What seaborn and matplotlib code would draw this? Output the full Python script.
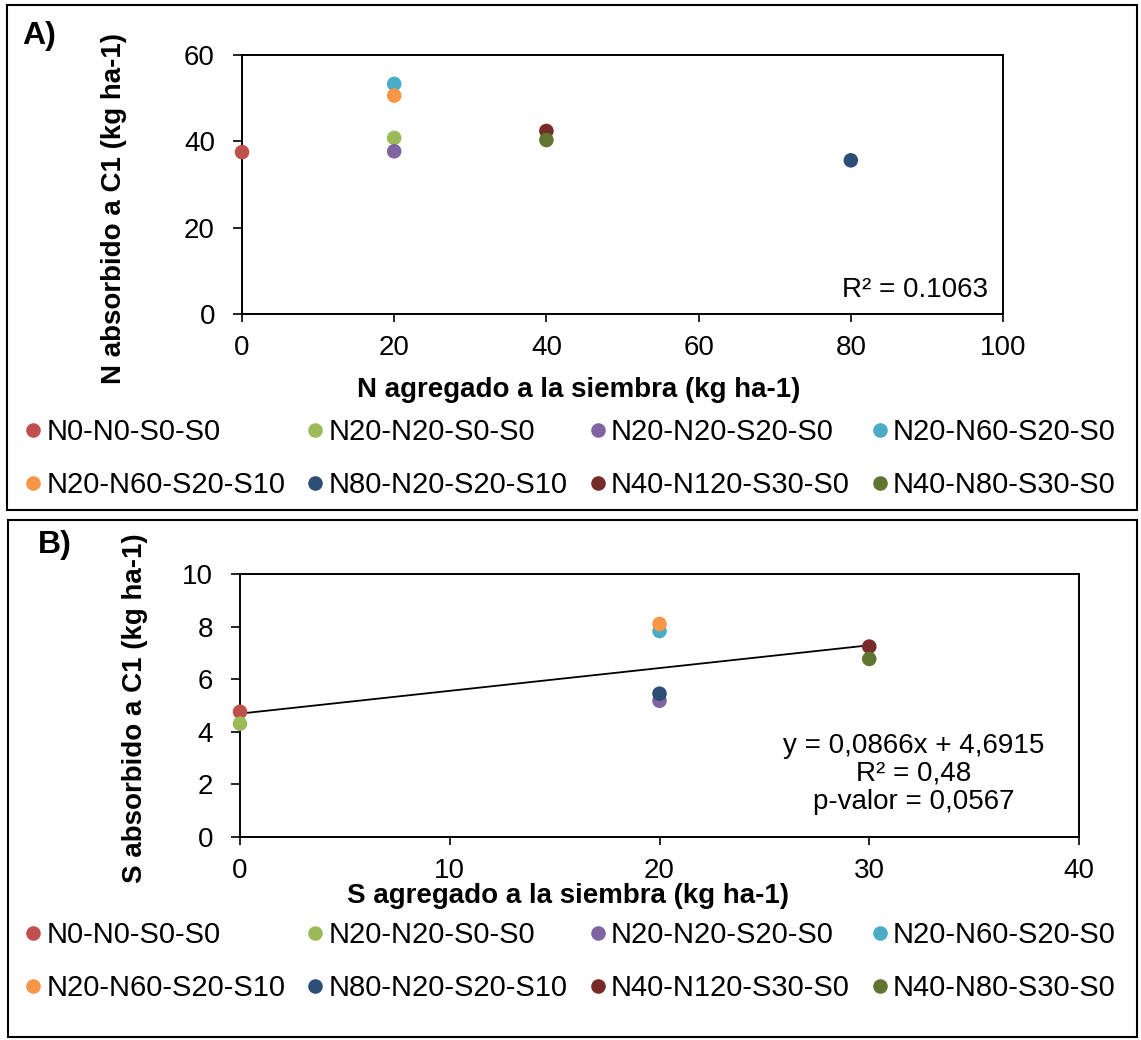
import matplotlib
matplotlib.use("Agg")
import matplotlib.pyplot as plt
from matplotlib.lines import Line2D
from matplotlib.patches import Rectangle
import seaborn as sns
import pandas as pd
import numpy as np

# ---------------- data ----------------
treatments = ["N0-N0-S0-S0", "N20-N20-S0-S0", "N20-N20-S20-S0", "N20-N60-S20-S0",
              "N20-N60-S20-S10", "N80-N20-S20-S10", "N40-N120-S30-S0", "N40-N80-S30-S0"]
colors = ["#C0504D", "#9BBB59", "#8064A2", "#4BACC6",
          "#F79646", "#2C4D75", "#772C2A", "#5F7530"]

# Panel A: N applied at sowing vs N uptake at C1
n_added = [0, 20, 20, 20, 20, 80, 40, 40]
n_uptake = [37.5, 40.8, 37.7, 53.3, 50.6, 35.6, 42.4, 40.3]

# Panel B: S applied at sowing vs S uptake at C1
s_added = [0, 0, 20, 20, 20, 20, 30, 30]
s_uptake = [4.76, 4.31, 5.18, 7.83, 8.10, 5.45, 7.24, 6.77]

# Linear trend reported for panel B
trend_slope = 0.0866
trend_intercept = 4.6915
trend_xrange = [0, 30]

xticks_a = [0, 20, 40, 60, 80, 100]
yticks_a = [0, 20, 40, 60]
xticks_b = [0, 10, 20, 30, 40]
yticks_b = [0, 2, 4, 6, 8, 10]

text_a = "R² = 0.1063"
text_b = "y = 0,0866x + 4,6915\nR² = 0,48\np-valor = 0,0567"

# ---------------- style ----------------
sns.set_theme(style="white")
plt.rcParams["font.family"] = ["Liberation Sans", "DejaVu Sans"]
plt.rcParams["text.color"] = "black"
plt.rcParams["axes.labelcolor"] = "black"
plt.rcParams["xtick.color"] = "black"
plt.rcParams["ytick.color"] = "black"

W, H = 1141, 1040
fig = plt.figure(figsize=(W / 100, H / 100), dpi=100)


def px_axes(l, t, r, b):
    return fig.add_axes([l / W, 1 - b / H, (r - l) / W, (b - t) / H])


df_a = pd.DataFrame({"x": n_added, "y": n_uptake, "trat": treatments})
df_b = pd.DataFrame({"x": s_added, "y": s_uptake, "trat": treatments})
pal = dict(zip(treatments, colors))

TICK_FS = 20
LAB_FS = 20


def style_axes(ax, xt, yt):
    ax.set_xticks(xt)
    ax.set_yticks(yt)
    ax.set_xlim(xt[0], xt[-1])
    ax.set_ylim(yt[0], yt[-1])
    for sp in ax.spines.values():
        sp.set_visible(True)
        sp.set_color("black")
        sp.set_linewidth(1.4)
    ax.tick_params(axis="x", direction="out", length=6, width=1.2, pad=9,
                   labelsize=TICK_FS, colors="black", bottom=True)
    ax.tick_params(axis="y", direction="out", length=6.5, width=1.2, pad=13,
                   labelsize=TICK_FS, colors="black", left=True)
    ax.grid(False)


def add_legend(ax, top_px):
    # row-major order for a 4-column, 2-row legend (matplotlib fills by column)
    order = [0, 4, 1, 5, 2, 6, 3, 7]
    handles = [Line2D([0], [0], marker="o", linestyle="none", markersize=10.5,
                      markerfacecolor=colors[i], markeredgecolor="none") for i in order]
    labels = [treatments[i] for i in order]
    leg = ax.legend(handles, labels, ncol=4, loc="upper left",
                    bbox_to_anchor=(26 / W, 1 - top_px / H),
                    bbox_transform=fig.transFigure, frameon=False,
                    fontsize=21, handlelength=0.5, handletextpad=0.2,
                    columnspacing=0.78, labelspacing=0.86, borderpad=0,
                    borderaxespad=0)
    for t in leg.get_texts():
        t.set_color("black")
    return leg


# ---------------- Panel A ----------------
axA = px_axes(242, 55, 1003, 314)
sns.scatterplot(data=df_a, x="x", y="y", hue="trat", palette=pal, s=110,
                edgecolor="none", legend=False, ax=axA, zorder=3, clip_on=False)
style_axes(axA, xticks_a, yticks_a)
axA.set_xlabel("N agregado a la siembra (kg ha-1)", fontsize=LAB_FS, fontweight="bold")
axA.set_ylabel("N absorbido a C1 (kg ha-1)", fontsize=LAB_FS, fontweight="bold")
axA.xaxis.label.set_ha("left")
axA.xaxis.label.set_va("baseline")
axA.xaxis.set_label_coords((357 - 242) / 761, (314 - 397) / 259)
axA.yaxis.label.set_va("center")
axA.yaxis.set_label_coords((114 - 242) / 761, (314 - 209) / 259)
axA.text(0.980, 0.093, text_a, transform=axA.transAxes, ha="right", va="center",
         fontsize=TICK_FS)
add_legend(axA, 418)

# ---------------- Panel B ----------------
axB = px_axes(240, 574, 1079, 837)
sns.scatterplot(data=df_b, x="x", y="y", hue="trat", palette=pal, s=110,
                edgecolor="none", legend=False, ax=axB, zorder=3, clip_on=False)
tx = np.array(trend_xrange, dtype=float)
axB.plot(tx, trend_slope * tx + trend_intercept, color="black", lw=1.3, zorder=2)
style_axes(axB, xticks_b, yticks_b)
axB.set_xlabel("S agregado a la siembra (kg ha-1)", fontsize=LAB_FS, fontweight="bold")
axB.set_ylabel("S absorbido a C1 (kg ha-1)", fontsize=LAB_FS, fontweight="bold")
axB.xaxis.label.set_ha("left")
axB.xaxis.label.set_va("baseline")
axB.xaxis.set_label_coords((347 - 240) / 839, (837 - 903) / 263)
axB.yaxis.label.set_va("center")
axB.yaxis.set_label_coords((135 - 240) / 839, (837 - 708) / 263)
axB.text((914 - 240) / 839, (837 - 774) / 263, text_b, transform=axB.transAxes,
         ha="center", va="center", fontsize=TICK_FS, linespacing=1.12,
         multialignment="center")
add_legend(axB, 921)

# ---------------- panel letters & frames ----------------
fig.text(22 / W, 1 - 44 / H, "A)", fontsize=23, fontweight="bold", ha="left",
         va="baseline")
fig.text(38 / W, 1 - 553 / H, "B)", fontsize=23, fontweight="bold", ha="left",
         va="baseline")

for (l, t, r, b) in [(7, 5, 1137, 510), (8, 520, 1137, 1037)]:
    fig.patches.append(Rectangle((l / W, 1 - b / H), (r - l) / W, (b - t) / H,
                                 transform=fig.transFigure, fill=False,
                                 edgecolor="black", linewidth=1.5))

fig.savefig("out.png", dpi=100)
